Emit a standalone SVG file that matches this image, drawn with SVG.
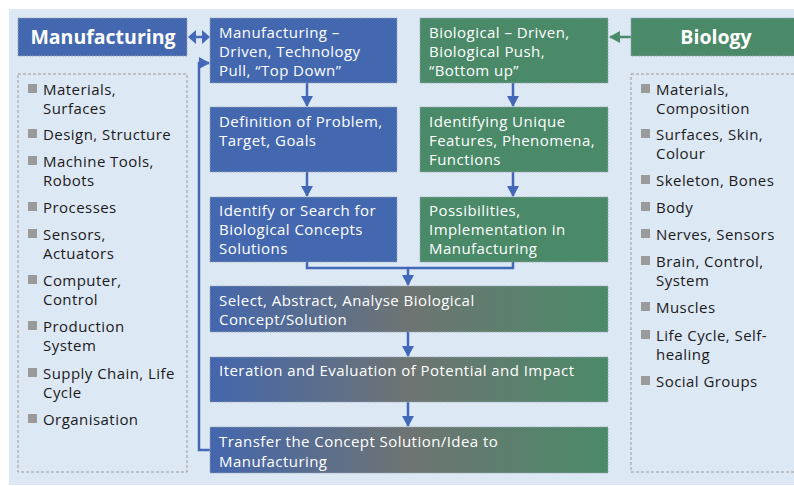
<svg xmlns="http://www.w3.org/2000/svg" width="794" height="486" viewBox="0 0 794 486">
<defs>
<style>
.bg{fill:#dde8f5}
.blue{fill:#4468b0;stroke:#9aa4b4;stroke-width:0.8;stroke-dasharray:2 1}
.green{fill:#4a8a68;stroke:#9aa4b4;stroke-width:0.8;stroke-dasharray:2 1}
.grad{fill:url(#g);stroke:#9aa4b4;stroke-width:0.8;stroke-dasharray:2 1}
.list{fill:none;stroke:#9a9a9a;stroke-width:1;stroke-dasharray:3 2}
.t{font-family:"Open Sans","Noto Sans",sans-serif;font-size:15px;letter-spacing:0.45px;fill:#ffffff}
.h{font-family:"Open Sans","Noto Sans",sans-serif;font-size:19.5px;font-weight:bold;fill:#ffffff;text-anchor:middle}
.li{font-family:"Open Sans","Noto Sans",sans-serif;font-size:15px;letter-spacing:0.45px;fill:#1a1a1a}
.bul{fill:#9a9a9a}
.c{fill:none;stroke:#4468b8;stroke-width:2.5}
.cg{fill:none;stroke:#4a8a68;stroke-width:2.5}
.ah{fill:#4468b8}
</style>
<linearGradient id="g" x1="0" y1="0" x2="1" y2="0">
<stop offset="0" stop-color="#4466ad"/>
<stop offset="0.5" stop-color="#6e7472"/>
<stop offset="1" stop-color="#4a8a68"/>
</linearGradient>
<marker id="ab" markerWidth="11" markerHeight="12" refX="10" refY="6" orient="auto" markerUnits="userSpaceOnUse"><path d="M0,0 L11,6 L0,12 z" fill="#4468b8"/></marker>
<marker id="ag" markerWidth="11" markerHeight="12" refX="10" refY="6" orient="auto" markerUnits="userSpaceOnUse"><path d="M0,0 L11,6 L0,12 z" fill="#4a8a68"/></marker>
</defs>
<rect class="bg" x="9" y="9" width="785" height="476"/>

<g id="connectors">
<path class="ah" d="M188,37 L196,30 L196,35.8 L202,35.8 L202,30 L210,37 L202,44 L202,38.2 L196,38.2 L196,44 z"/>
<line class="cg" x1="631" y1="37" x2="610" y2="37" marker-end="url(#ag)"/>
<polyline class="c" points="210,450 199,450 199,63 209,63" marker-end="url(#ab)"/>
<line class="c" x1="307" y1="83" x2="307" y2="106" marker-end="url(#ab)"/>
<line class="c" x1="307" y1="172" x2="307" y2="196" marker-end="url(#ab)"/>
<line class="c" x1="513" y1="83" x2="513" y2="106" marker-end="url(#ab)"/>
<line class="c" x1="513" y1="172" x2="513" y2="196" marker-end="url(#ab)"/>
<polyline class="c" points="307,262 307,268 513,268 513,262"/>
<line class="c" x1="408" y1="268" x2="408" y2="285" marker-end="url(#ab)"/>
<line class="c" x1="408" y1="332" x2="408" y2="356" marker-end="url(#ab)"/>
<line class="c" x1="408" y1="402" x2="408" y2="426" marker-end="url(#ab)"/>
</g>

<g id="manufacturing">
<rect class="blue" x="18" y="18" width="169" height="38"/>
<text class="h" x="103" y="44">Manufacturing</text>
</g>
<g id="biology">
<rect class="green" x="631" y="18" width="170" height="38"/>
<text class="h" x="716" y="44">Biology</text>
</g>

<g id="mfg-list">
<rect class="list" x="18" y="74" width="169" height="398"/>
<rect class="bul" x="28" y="84" width="9" height="9"/><text class="li" x="43" y="95">Materials,</text><text class="li" x="43" y="114">Surfaces</text>
<rect class="bul" x="28" y="129" width="9" height="9"/><text class="li" x="43" y="140">Design, Structure</text>
<rect class="bul" x="28" y="156" width="9" height="9"/><text class="li" x="43" y="167">Machine Tools,</text><text class="li" x="43" y="186">Robots</text>
<rect class="bul" x="28" y="202" width="9" height="9"/><text class="li" x="43" y="213">Processes</text>
<rect class="bul" x="28" y="229" width="9" height="9"/><text class="li" x="43" y="240">Sensors,</text><text class="li" x="43" y="259">Actuators</text>
<rect class="bul" x="28" y="275" width="9" height="9"/><text class="li" x="43" y="286">Computer,</text><text class="li" x="43" y="305">Control</text>
<rect class="bul" x="28" y="321" width="9" height="9"/><text class="li" x="43" y="332">Production</text><text class="li" x="43" y="351">System</text>
<rect class="bul" x="28" y="368" width="9" height="9"/><text class="li" x="43" y="379">Supply Chain, Life</text><text class="li" x="43" y="398">Cycle</text>
<rect class="bul" x="28" y="414" width="9" height="9"/><text class="li" x="43" y="425">Organisation</text>
</g>

<g id="bio-list">
<rect class="list" x="631" y="74" width="170" height="398"/>
<rect class="bul" x="641" y="84" width="9" height="9"/><text class="li" x="656" y="95">Materials,</text><text class="li" x="656" y="114">Composition</text>
<rect class="bul" x="641" y="129" width="9" height="9"/><text class="li" x="656" y="140">Surfaces, Skin,</text><text class="li" x="656" y="159">Colour</text>
<rect class="bul" x="641" y="175" width="9" height="9"/><text class="li" x="656" y="186">Skeleton, Bones</text>
<rect class="bul" x="641" y="202" width="9" height="9"/><text class="li" x="656" y="213">Body</text>
<rect class="bul" x="641" y="229" width="9" height="9"/><text class="li" x="656" y="240">Nerves, Sensors</text>
<rect class="bul" x="641" y="256" width="9" height="9"/><text class="li" x="656" y="267">Brain, Control,</text><text class="li" x="656" y="286">System</text>
<rect class="bul" x="641" y="302" width="9" height="9"/><text class="li" x="656" y="313">Muscles</text>
<rect class="bul" x="641" y="330" width="9" height="9"/><text class="li" x="656" y="341">Life Cycle, Self-</text><text class="li" x="656" y="360">healing</text>
<rect class="bul" x="641" y="376" width="9" height="9"/><text class="li" x="656" y="387">Social Groups</text>
</g>

<g id="mfg-driven">
<rect class="blue" x="210" y="18" width="187" height="65"/>
<text class="t" x="219" y="38">Manufacturing –</text>
<text class="t" x="219" y="57">Driven, Technology</text>
<text class="t" x="219" y="76">Pull, “Top Down”</text>
</g>
<g id="bio-driven">
<rect class="green" x="420" y="18" width="188" height="65"/>
<text class="t" x="429" y="38">Biological – Driven,</text>
<text class="t" x="429" y="57">Biological Push,</text>
<text class="t" x="429" y="76">“Bottom up”</text>
</g>
<g id="definition">
<rect class="blue" x="210" y="107" width="187" height="65"/>
<text class="t" x="219" y="127">Definition of Problem,</text>
<text class="t" x="219" y="146">Target, Goals</text>
</g>
<g id="identifying">
<rect class="green" x="420" y="107" width="188" height="65"/>
<text class="t" x="429" y="127">Identifying Unique</text>
<text class="t" x="429" y="146">Features, Phenomena,</text>
<text class="t" x="429" y="165">Functions</text>
</g>
<g id="identify-search">
<rect class="blue" x="210" y="197" width="187" height="65"/>
<text class="t" x="219" y="216">Identify or Search for</text>
<text class="t" x="219" y="235">Biological Concepts</text>
<text class="t" x="219" y="254">Solutions</text>
</g>
<g id="possibilities">
<rect class="green" x="420" y="197" width="188" height="65"/>
<text class="t" x="429" y="216">Possibilities,</text>
<text class="t" x="429" y="235">Implementation in</text>
<text class="t" x="429" y="254">Manufacturing</text>
</g>
<g id="select">
<rect class="grad" x="210" y="286" width="398" height="46"/>
<text class="t" x="219" y="306">Select, Abstract, Analyse Biological</text>
<text class="t" x="219" y="325">Concept/Solution</text>
</g>
<g id="iteration">
<rect class="grad" x="210" y="357" width="398" height="45"/>
<text class="t" x="219" y="376">Iteration and Evaluation of Potential and Impact</text>
</g>
<g id="transfer">
<rect class="grad" x="210" y="427" width="398" height="46"/>
<text class="t" x="219" y="447">Transfer the Concept Solution/Idea to</text>
<text class="t" x="219" y="467">Manufacturing</text>
</g>
</svg>
